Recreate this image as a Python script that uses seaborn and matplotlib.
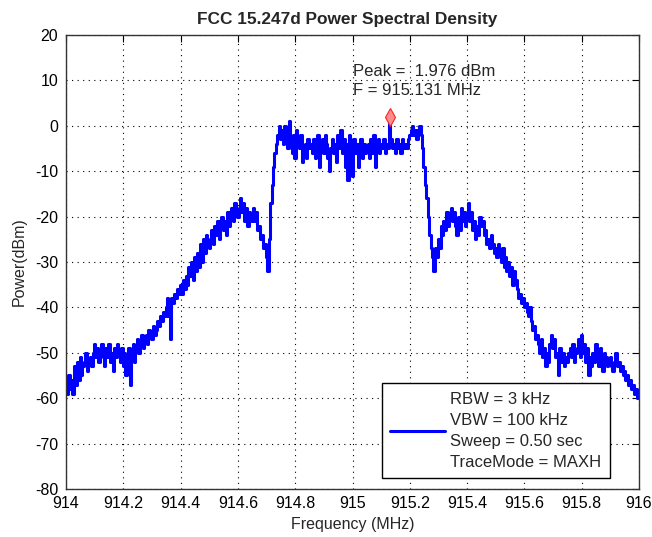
import matplotlib
matplotlib.use("Agg")
import matplotlib.pyplot as plt
import seaborn as sns
import numpy as np
import pandas as pd

freq_start = 914.0
freq_step = 0.005
power_dbm = [
    -57, -59, -55, -58, -56, -59, -53, -57, -52, -56,   # 914.00
    -51, -55, -53, -52, -50, -54, -52, -51, -53, -50,   # 914.05
    -48, -51, -49, -52, -50, -48, -51, -53, -49, -51,   # 914.10
    -48, -52, -50, -54, -49, -51, -48, -50, -52, -49,   # 914.15
    -53, -50, -55, -51, -49, -57, -50, -48, -52, -49,   # 914.20
    -47, -50, -48, -46, -49, -47, -46, -48, -45, -46,   # 914.25
    -47, -44, -46, -45, -43, -44, -42, -43, -41, -42,   # 914.30
    -40, -38, -42, -47, -38, -39, -37, -38, -36, -37,   # 914.35
    -35, -37, -34, -36, -33, -35, -31, -33, -30, -34,   # 914.40
    -29, -32, -28, -31, -26, -30, -25, -28, -24, -26,   # 914.45
    -27, -25, -23, -26, -22, -24, -21, -25, -22, -20,   # 914.50
    -23, -21, -24, -19, -22, -20, -18, -21, -17, -19,   # 914.55
    -20, -18, -16, -19, -17, -21, -18, -22, -19, -21,   # 914.60
    -20, -18, -21, -19, -23, -22, -25, -24, -27, -26,   # 914.65
    -29, -32, -25, -17, -13, -9, -6, -4, -2, 0,         # 914.70
    -3, -1, -4, 0, -2, -5, 1, -3, -6, -2,               # 914.75
    -7, -1, -3, -5, -2, -8, -6, -4, -7, -3,             # 914.80
    -5, -4, -6, -3, -7, -4, -2, -9, -5, -3,             # 914.85
    -6, -2, -4, -7, -10, -5, -3, -6, -4, -8,            # 914.90
    -2, -5, -1, -6, -3, -9, -4, -12, -2, -7,            # 914.95
    -11, -3, -6, -4, -9, -5, -3, -7, -4, -6,            # 915.00
    -5, -4, -7, -3, -6, -2, -9, -4, -3, -6,             # 915.05
    -4, -5, -3, -6, -4, -5, 2, -3, -5, -4,              # 915.10
    -6, -3, -5, -4, -6, -3, -5, -4, -5, -3,             # 915.15
    -2, -1, 0, -2, -1, -3, -1, 0, -2, -5,               # 915.20
    -9, -13, -16, -20, -24, -27, -29, -32, -27, -29,    # 915.25
    -25, -27, -22, -24, -21, -23, -19, -22, -20, -18,   # 915.30
    -21, -19, -22, -24, -20, -23, -18, -21, -19, -22,   # 915.35
    -20, -17, -21, -19, -23, -21, -25, -22, -24, -20,   # 915.40
    -22, -21, -24, -23, -26, -25, -27, -24, -26, -28,   # 915.45
    -27, -29, -26, -28, -30, -27, -31, -29, -32, -30,   # 915.50
    -33, -31, -35, -32, -34, -36, -38, -37, -39, -38,   # 915.55
    -40, -39, -41, -42, -40, -43, -45, -44, -47, -46,   # 915.60
    -48, -50, -47, -51, -49, -53, -50, -52, -48, -46,   # 915.65
    -49, -47, -51, -50, -55, -49, -52, -50, -53, -51,   # 915.70
    -52, -50, -49, -51, -48, -52, -50, -49, -47, -51,   # 915.75
    -46, -50, -48, -52, -49, -55, -51, -53, -50, -52,   # 915.80
    -48, -51, -53, -49, -52, -54, -50, -51, -53, -52,   # 915.85
    -51, -53, -54, -52, -50, -53, -52, -54, -53, -55,   # 915.90
    -54, -56, -55, -57, -56, -58, -57, -59, -58, -60,   # 915.95
    -59,                                                # 916.00
]
freq_mhz = np.round(freq_start + freq_step * np.arange(len(power_dbm)), 3)

peak_freq = 915.131
peak_power = 1.976

x_ticks = [914, 914.2, 914.4, 914.6, 914.8, 915, 915.2, 915.4, 915.6, 915.8, 916]
x_tick_labels = ["914", "914.2", "914.4", "914.6", "914.8", "915",
                 "915.2", "915.4", "915.6", "915.8", "916"]
y_ticks = [-80, -70, -60, -50, -40, -30, -20, -10, 0, 10, 20]

legend_label = "RBW = 3 kHz\nVBW = 100 kHz\nSweep = 0.50 sec\nTraceMode = MAXH"

sns.set_style("white")
plt.rcParams["font.family"] = ["Liberation Sans", "DejaVu Sans"]
plt.rcParams["axes.unicode_minus"] = False
plt.rcParams["xtick.direction"] = "in"
plt.rcParams["ytick.direction"] = "in"

df = pd.DataFrame({"freq": freq_mhz, "power": power_dbm})

fig = plt.figure(figsize=(6.52, 5.37), dpi=100)
ax = fig.add_axes([66 / 652, 1 - 489 / 537, 573 / 652, 454 / 537])

sns.lineplot(data=df, x="freq", y="power", ax=ax, color="#0000ff", linewidth=2.2,
             drawstyle="steps-mid", estimator=None, sort=False, label=legend_label)
ax.plot([peak_freq], [peak_power], marker="d", markersize=9,
        markerfacecolor="#ff8c8c", markeredgecolor="#ff2020", markeredgewidth=0.8,
        linestyle="none")
ax.text(915.003, 9.9, "Peak =  %.3f dBm\nF = %.3f MHz" % (peak_power, peak_freq),
        fontsize=12, va="center", ha="left", linespacing=1.38)

ax.set_xlim(914, 916)
ax.set_ylim(-80, 20)
ax.set_xticks(x_ticks)
ax.set_xticklabels(x_tick_labels)
ax.set_yticks(y_ticks)
ax.tick_params(axis="both", labelsize=11.5, length=5, width=0.8, colors="black",
               top=True, right=True)
ax.tick_params(axis="x", pad=5)
ax.tick_params(axis="y", pad=5.5)
ax.grid(True, linestyle=(0, (1, 4)), color="black", linewidth=0.8)
for s in ax.spines.values():
    s.set_color("#333333")
    s.set_linewidth(1.0)

ax.set_xlabel("Frequency (MHz)", fontsize=11.5, labelpad=4)
ax.set_ylabel("Power(dBm)", fontsize=11.5, labelpad=6)
ax.set_title("FCC 15.247d Power Spectral Density", fontsize=12.4, fontweight="bold",
             pad=8, x=0.49)

leg = ax.legend(loc="lower right", bbox_to_anchor=(0.949, 0.024), borderaxespad=0,
                fontsize=12, handlelength=3.3, fancybox=False, framealpha=1,
                edgecolor="black", borderpad=0.5, handletextpad=0.3)
leg.get_frame().set_linewidth(1.0)
for t in leg.get_texts():
    t.set_linespacing(1.5)

fig.savefig("out.png", dpi=100, facecolor="white")
